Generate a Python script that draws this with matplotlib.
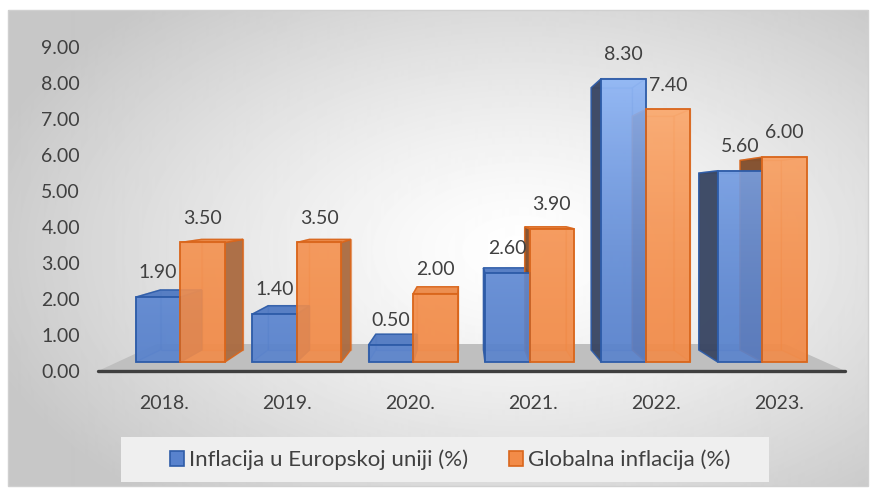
import numpy as np
import matplotlib
matplotlib.use('Agg')
import matplotlib.pyplot as plt
from matplotlib.patches import Polygon, Rectangle, Patch
from matplotlib.colors import to_rgb

# ---------------- data ----------------
years = ['2018.', '2019.', '2020.', '2021.', '2022.', '2023.']
eu_inflation = [1.90, 1.40, 0.50, 2.60, 8.30, 5.60]
global_inflation = [3.50, 3.50, 2.00, 3.90, 7.40, 6.00]
series_names = ['Inflacija u Europskoj uniji (%)', 'Globalna inflacija (%)']
y_ticks = [0, 1, 2, 3, 4, 5, 6, 7, 8, 9]

plt.rcParams['font.family'] = ['Lato', 'DejaVu Sans']
TXT = '#404040'

W, H = 871, 492
fig = plt.figure(figsize=(W / 100, H / 100), dpi=100)

# ---------------- background (radial gradient chart area) ----------------
bg = fig.add_axes([0, 0, 1, 1])
bg.set_xlim(0, W)
bg.set_ylim(H, 0)
bg.axis('off')
yy, xx = np.mgrid[10:486, 8:868].astype(float)
r = np.sqrt(((xx - 520) / 560.0) ** 2 + ((yy - 250) / 330.0) ** 2)
img = 1.0 - 0.22 * np.clip(r, 0, 1) ** 1.3
bg.imshow(img, extent=(8, 868, 486, 10), cmap='gray', vmin=0, vmax=1,
          aspect='auto', interpolation='bilinear')
bg.add_patch(Rectangle((8, 10), 860, 476, fill=False, ec='#d0d0d0', lw=1))
bg.add_patch(Rectangle((121, 437), 648, 45, fc='#efefef', ec='none'))

# ---------------- main axes ----------------
px_left, px_right = 90.7, 852.6
px_top, px_bottom = 46.5, 371.0
ax = fig.add_axes([px_left / W, (H - px_bottom) / H,
                   (px_right - px_left) / W, (px_bottom - px_top) / H])
XLIM = (-0.6, 5.6)
YLIM = (0, 9)
ax.set_xlim(*XLIM)
ax.set_ylim(*YLIM)
ax.patch.set_alpha(0)
for sp in ax.spines.values():
    sp.set_visible(False)
ax.set_yticks(y_ticks)
ax.set_yticklabels([f'{t:.2f}' for t in y_ticks])
ax.set_xticks(range(len(years)))
ax.set_xticklabels(years)
ax.tick_params(axis='both', length=0, labelsize=14, labelcolor=TXT)
ax.tick_params(axis='y', pad=7.7)
ax.tick_params(axis='x', pad=17)

# perspective parameters (vanishing point in data coordinates)
VPX, VPY = 2.45, 4.71
S_FRONT, S_BACK = 0.947, 0.876
S_FLOOR_BACK = 0.841
BAR_W = 0.383
FLOOR_X0, FLOOR_X1 = -0.54, 5.54


def proj(x, v, s):
    return (VPX + (x - VPX) * s, VPY + (v - VPY) * s)


# floor
floor = [proj(FLOOR_X0, 0, 1), proj(FLOOR_X1, 0, 1),
         proj(FLOOR_X1, 0, S_FLOOR_BACK), proj(FLOOR_X0, 0, S_FLOOR_BACK)]
ax.add_patch(Polygon(floor, closed=True, fc='#bfbfbf', ec='none', zorder=1,
                     clip_on=False))
ax.plot([FLOOR_X0, FLOOR_X1], [0, 0], color='#3f3f3f', lw=2.4,
        solid_capstyle='round', zorder=1.5, clip_on=False)

styles = [
    dict(front='#5882cd', light='#9cc2ff', top='#5079c2', left='#36425e',
         right='#3f5f98', edge='#2e5ca8'),
    dict(front='#f28b48', light='#ffb780', top='#ec8a48', left='#7d4a28',
         right='#a8693f', edge='#d9661c'),
]


def gradient_image(c_lo, c_hi, alpha):
    t = np.linspace(0, 1, 256) ** 1.6
    lo = np.array(to_rgb(c_lo))
    hi = np.array(to_rgb(c_hi))
    rgb = lo[None, :] * (1 - t[:, None]) + hi[None, :] * t[:, None]
    rgba = np.concatenate([rgb, np.full((256, 1), alpha)], axis=1)
    return rgba[:, None, :]


series = [eu_inflation, global_inflation]
for i in range(len(years)):
    for k, vals in enumerate(series):
        v = vals[i]
        st = styles[k]
        x0 = i - BAR_W + k * BAR_W
        x1 = x0 + BAR_W
        F, B = S_FRONT, S_BACK
        faces = {
            'front': [proj(x0, 0, F), proj(x1, 0, F), proj(x1, v, F), proj(x0, v, F)],
            'back': [proj(x0, 0, B), proj(x1, 0, B), proj(x1, v, B), proj(x0, v, B)],
            'left': [proj(x0, 0, F), proj(x0, v, F), proj(x0, v, B), proj(x0, 0, B)],
            'right': [proj(x1, 0, F), proj(x1, v, F), proj(x1, v, B), proj(x1, 0, B)],
            'top': [proj(x0, v, F), proj(x1, v, F), proj(x1, v, B), proj(x0, v, B)],
        }
        vis_left = x0 > VPX
        vis_right = x1 < VPX
        vis_top = v < VPY
        hidden = ['back']
        if not vis_left:
            hidden.append('left')
        if not vis_right:
            hidden.append('right')
        if not vis_top:
            hidden.append('top')
        for name in hidden:
            ax.add_patch(Polygon(faces[name], closed=True, fc=st['front'],
                                 alpha=0.35, ec=st['edge'], lw=1.0, zorder=2))
        for name, ok in (('left', vis_left), ('right', vis_right), ('top', vis_top)):
            if ok:
                ax.add_patch(Polygon(faces[name], closed=True, fc=st[name],
                                     alpha=0.92, ec=st['edge'], lw=1.1,
                                     zorder=3))
        # front face with vertical light gradient
        clip = Polygon(faces['front'], closed=True, fc='none', ec='none',
                       transform=ax.transData)
        ax.add_patch(clip)
        im = ax.imshow(gradient_image(st['front'], st['light'], 0.9),
                       extent=(XLIM[0], XLIM[1], YLIM[0], YLIM[1]),
                       origin='lower', aspect='auto', zorder=4,
                       interpolation='bilinear')
        im.set_clip_path(clip)
        ax.add_patch(Polygon(faces['front'], closed=True, fc='none',
                             ec=st['edge'], lw=1.3, zorder=4.5))
        lx, ly = proj((x0 + x1) / 2, v, F)
        ax.annotate(f'{v:.2f}', xy=(lx, ly), xytext=(0, 13.5),
                    textcoords='offset points', ha='center', va='baseline',
                    fontsize=14, color=TXT, zorder=6, annotation_clip=False)

ax.set_xlim(*XLIM)
ax.set_ylim(*YLIM)

# ---------------- legend ----------------
handles = [Patch(fc=styles[0]['front'], ec=styles[0]['edge'], lw=1.2),
           Patch(fc=styles[1]['front'], ec=styles[1]['edge'], lw=1.2)]
fig.legend(handles, series_names, loc='center',
           bbox_to_anchor=(450 / W, 1 - 460 / H), ncol=2, frameon=False,
           fontsize=16, labelcolor=TXT, handlelength=0.63, handleheight=0.63,
           handletextpad=0.23, columnspacing=1.85, borderpad=0)

fig.savefig('out.png', dpi=100)
